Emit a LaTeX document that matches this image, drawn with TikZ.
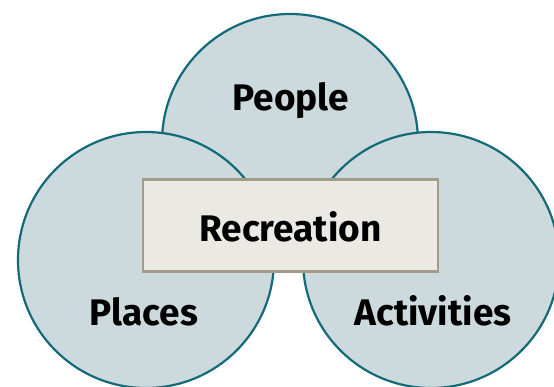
\documentclass[tikz,border=0pt]{standalone}
\usepackage{fontspec}
\setmainfont{Fira Sans}
\definecolor{ringfill}{HTML}{CCDADD}
\definecolor{ringline}{HTML}{136A78}
\definecolor{boxfill}{HTML}{EAE9E4}
\definecolor{boxline}{HTML}{A39C87}
\begin{document}
\begin{tikzpicture}[x=1pt,y=-1pt,
  ring/.style={circle,draw=ringline,fill=ringfill,line width=2.2pt,
    minimum size=256pt,inner sep=0pt},
  core/.style={draw=boxline,fill=boxfill,line width=2.2pt,
    minimum width=295pt,minimum height=92pt,inner sep=0pt},
  word/.style={font=\fontsize{37}{44}\selectfont\bfseries,inner sep=0pt,anchor=base}]
  \useasboundingbox (0,0) rectangle (554,386);
  \clip (0,0) rectangle (554,386);
  % the three rings, top one first so the lower two sit over it
  \node[ring] (people) at (290,142) {};
  \node[ring] (places) at (146,260) {};
  \node[ring] (activities) at (431,260) {};
  % box in the middle
  \node[core] (recreation) at (290.5,225.5) {};
  \node[word] (peopletext) at (291,110) {People};
  \node[word] (placestext) at (144,325) {Places};
  \node[word] (activitiestext) at (433,325) {Activities};
  \node[word] (recreationtext) at (290.5,241.5) {Recreation};
\end{tikzpicture}
\end{document}
